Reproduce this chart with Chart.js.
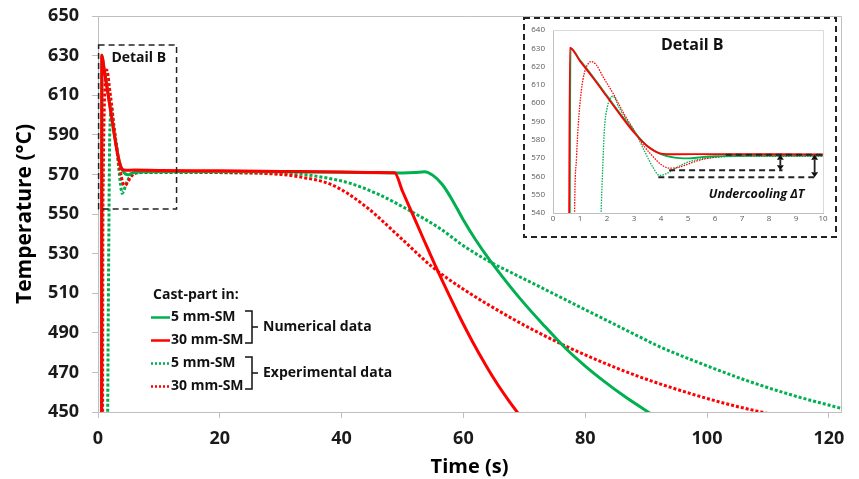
<!DOCTYPE html>
<html>
<head>
<meta charset="utf-8">
<script src="https://cdn.jsdelivr.net/npm/chart.js@4.4.0/dist/chart.umd.min.js"></script>
<style>
  body { margin: 0; background: #fff; }
  #wrap { position: relative; width: 859px; height: 479px; }
  #main { position: absolute; left: 0; top: 0; }
  #inset { position: absolute; left: 520px; top: 14px; }
</style>
</head>
<body>
<div id="wrap">
  <canvas id="main" width="859" height="479"></canvas>
  <canvas id="inset" width="320" height="227"></canvas>
</div>
<script>
// cast-part 5 mm-SM, numerical
const time5Num = [0.6, 0.65, 1.0, 1.5, 2.0, 2.5, 3.0, 3.5, 4.0, 4.5, 5.0, 5.5, 6.0, 8.0, 10, 20, 30, 40, 46, 50, 52, 53.6, 55, 56.5, 58, 59.9, 62, 64.3, 67, 69.8, 73, 76.9, 80, 82.9, 86.5, 90.6, 92];
const temp5Num = [430, 630, 623.5, 614, 604, 594, 584.5, 576.5, 572.2, 570.2, 569.8, 570.5, 571, 571.4, 571.5, 571.5, 571.4, 571.1, 570.8, 570.7, 570.9, 571.4, 569.5, 565, 558, 547.5, 537, 526.8, 516, 505.5, 494.5, 481.8, 473.2, 466, 457.8, 449.5, 446.8];

// cast-part 30 mm-SM, numerical
const time30Num = [0.58, 0.62, 1.0, 1.5, 2.0, 2.5, 3.0, 3.5, 4.0, 4.5, 6, 10, 20, 30, 40, 46, 48.7, 50, 51.6, 53.5, 55.6, 57.5, 59.4, 61.5, 63.7, 65.6, 67.5, 69.2, 70];
const temp30Num = [430, 630.3, 623, 613.5, 603.5, 593.5, 584, 576.5, 572.5, 572.1, 572.2, 572, 571.8, 571.5, 571.2, 571, 570.8, 561.5, 550.3, 537, 522.5, 510, 498, 485.5, 473.5, 464, 455.5, 448.5, 445.5];

// cast-part 5 mm-SM, experimental
const time5Exp = [1.55, 1.7, 1.78, 1.85, 1.91, 2.0, 2.1, 2.22, 2.45, 2.7, 3.05, 3.4, 3.7, 3.95, 4.2, 4.6, 5.0, 5.5, 6.0, 7.0, 10, 20, 30, 33, 37, 41.3, 46, 51, 56.1, 60, 64.3, 68, 72.5, 76.5, 80.7, 84.5, 88.9, 92.2, 99, 106.4, 114, 121.8, 123];
const temp5Exp = [430, 505, 540, 568, 587, 597, 602, 603.8, 597.5, 591.5, 584, 573.5, 565, 560.5, 561.5, 565, 567.8, 569.6, 570.4, 571, 571, 570.9, 570.6, 570.2, 568.5, 565.6, 560, 552, 542.8, 534, 525.9, 520.2, 513.3, 507.1, 500.6, 494.8, 488, 483, 474.5, 466, 458.5, 452, 451];

// cast-part 30 mm-SM, experimental
const time30Exp = [0.75, 0.8, 0.87, 0.93, 1.05, 1.17, 1.3, 1.42, 1.6, 1.85, 2.22, 2.6, 3.03, 3.4, 3.7, 4.0, 4.32, 4.6, 4.94, 5.3, 5.7, 6.44, 8, 10, 20, 30, 33, 38.5, 44, 49.5, 55, 60, 64.3, 68.7, 72.5, 77, 82.3, 88.9, 97.6, 104, 110.3, 111];
const temp30Exp = [430, 540, 570, 587, 607, 617, 621.5, 622.7, 621, 614.5, 605.5, 595, 584.5, 576, 570.9, 566.5, 564.5, 564.8, 566.4, 568.3, 569.8, 571, 571.2, 571.2, 571, 570, 568.8, 564.6, 553.7, 538.5, 523, 512, 503.8, 496, 489.8, 483, 475.8, 467.8, 459, 453.5, 449, 448.5];

const mainTimeTicks = [0, 20, 40, 60, 80, 100, 120];
const mainTempTicks = [450, 470, 490, 510, 530, 550, 570, 590, 610, 630, 650];

// "Detail B" region and undercooling marks
const detailTime = [0.1, 12.9];
const detailTemp = [552.5, 635.4];
const plateauTemp = 571.8;
const undercoolTemp = [563.3, 559.5];
const undercoolStart = [4.3, 3.9];
const undercoolEnd = [8.5, 9.7];
const arrowTime = [8.42, 9.69];

const legendNames = ['5 mm-SM', '30 mm-SM', '5 mm-SM', '30 mm-SM'];
const groupNames = ['Numerical data', 'Experimental data'];

const GREEN = '#00b050';
const RED = '#ff0000';

Chart.defaults.font.family = "'Open Sans', sans-serif";

function pts(t, v) {
  return t.map((x, i) => ({ x: x, y: v[i] }));
}

function makeSets(solidW, dotW, dash) {
  return [
    { label: 'Numerical 5 mm-SM', data: pts(time5Num, temp5Num), borderColor: GREEN, borderWidth: solidW, order: 1 },
    { label: 'Numerical 30 mm-SM', data: pts(time30Num, temp30Num), borderColor: RED, borderWidth: solidW, order: 0 },
    { label: 'Experimental 5 mm-SM', data: pts(time5Exp, temp5Exp), borderColor: GREEN, borderWidth: dotW, borderDash: dash, order: 3 },
    { label: 'Experimental 30 mm-SM', data: pts(time30Exp, temp30Exp), borderColor: RED, borderWidth: dotW, borderDash: dash, order: 2 }
  ].map(d => Object.assign(d, { pointRadius: 0, fill: false, cubicInterpolationMode: 'monotone' }));
}

const mainDecor = {
  id: 'mainDecor',
  afterDraw(chart) {
    const { ctx, chartArea: a, scales: { x, y } } = chart;
    ctx.save();
    // plot frame (top, right)
    ctx.strokeStyle = '#bfbfbf';
    ctx.lineWidth = 1;
    ctx.beginPath();
    ctx.moveTo(a.left, a.top + 0.5);
    ctx.lineTo(a.right + 0.5, a.top + 0.5);
    ctx.lineTo(a.right + 0.5, a.bottom);
    ctx.stroke();

    // Detail B box
    ctx.strokeStyle = '#222';
    ctx.lineWidth = 1.5;
    ctx.setLineDash([6, 4]);
    const bx0 = x.getPixelForValue(detailTime[0]), bx1 = x.getPixelForValue(detailTime[1]);
    const by0 = y.getPixelForValue(detailTemp[1]), by1 = y.getPixelForValue(detailTemp[0]);
    ctx.strokeRect(bx0, by0, bx1 - bx0, by1 - by0);
    ctx.setLineDash([]);
    ctx.fillStyle = '#111';
    ctx.font = "bold 14px 'Open Sans'";
    ctx.textBaseline = 'middle';
    ctx.textAlign = 'left';
    ctx.fillText('Detail B', x.getPixelForValue(2.2), y.getPixelForValue(628.8));

    // legend
    ctx.fillText('Cast-part in:', 153, 295);
    const styles = [[GREEN, []], [RED, []], [GREEN, [2, 2]], [RED, [2, 2]]];
    legendNames.forEach((name, i) => {
      const ly = 317.5 + i * 23;
      ctx.strokeStyle = styles[i][0];
      ctx.lineWidth = 2.5;
      ctx.setLineDash(styles[i][1]);
      ctx.beginPath();
      ctx.moveTo(151, ly);
      ctx.lineTo(170, ly);
      ctx.stroke();
      ctx.setLineDash([]);
      ctx.fillStyle = '#111';
      ctx.fillText(name, 171, ly);
    });
    // brackets
    ctx.strokeStyle = '#111';
    ctx.lineWidth = 1.5;
    groupNames.forEach((g, i) => {
      const top = 311 + i * 46, bot = top + 32, mid = (top + bot) / 2;
      ctx.beginPath();
      ctx.moveTo(245, top); ctx.lineTo(252, top); ctx.lineTo(252, bot); ctx.lineTo(245, bot);
      ctx.moveTo(252, mid); ctx.lineTo(258, mid);
      ctx.stroke();
      ctx.fillText(g, 263, mid);
    });
    ctx.restore();
  }
};

function vArrow(ctx, px, yTop, yBot) {
  const h = 5, w = 3.5;
  ctx.beginPath();
  ctx.moveTo(px, yTop + h); ctx.lineTo(px, yBot - h);
  ctx.stroke();
  ctx.beginPath();
  ctx.moveTo(px, yTop); ctx.lineTo(px - w, yTop + h); ctx.lineTo(px + w, yTop + h); ctx.closePath();
  ctx.moveTo(px, yBot); ctx.lineTo(px - w, yBot - h); ctx.lineTo(px + w, yBot - h); ctx.closePath();
  ctx.fill();
}

const insetDecor = {
  id: 'insetDecor',
  beforeDraw(chart) {
    const { ctx, width, height } = chart;
    ctx.save();
    ctx.fillStyle = '#fff';
    ctx.fillRect(4, 4, width - 8, height - 8);
    ctx.restore();
  },
  afterDraw(chart) {
    const { ctx, chartArea: a, scales: { x, y }, width, height } = chart;
    ctx.save();
    ctx.strokeStyle = '#d9d9d9';
    ctx.lineWidth = 1;
    ctx.beginPath();
    ctx.moveTo(a.left, a.top + 0.5);
    ctx.lineTo(a.right + 0.5, a.top + 0.5);
    ctx.lineTo(a.right + 0.5, a.bottom);
    ctx.stroke();

    // outer dashed frame
    ctx.strokeStyle = '#222';
    ctx.lineWidth = 2;
    ctx.setLineDash([6, 4]);
    ctx.strokeRect(4, 4, width - 8, height - 8);

    // undercooling marks
    ctx.beginPath();
    ctx.moveTo(x.getPixelForValue(6.4), y.getPixelForValue(plateauTemp));
    ctx.lineTo(x.getPixelForValue(10), y.getPixelForValue(plateauTemp));
    undercoolTemp.forEach((t, i) => {
      ctx.moveTo(x.getPixelForValue(undercoolStart[i]), y.getPixelForValue(t));
      ctx.lineTo(x.getPixelForValue(undercoolEnd[i]), y.getPixelForValue(t));
    });
    ctx.stroke();
    ctx.setLineDash([]);
    ctx.fillStyle = '#111';
    ctx.lineWidth = 1.8;
    arrowTime.forEach((t, i) => {
      vArrow(ctx, x.getPixelForValue(t), y.getPixelForValue(plateauTemp), y.getPixelForValue(undercoolTemp[i]));
    });

    ctx.textAlign = 'center';
    ctx.textBaseline = 'middle';
    ctx.font = "bold 16px 'Open Sans'";
    ctx.fillText('Detail B', x.getPixelForValue(5.16), y.getPixelForValue(631.3));
    ctx.font = "italic bold 12.5px 'Open Sans'";
    ctx.fillText('Undercooling \u0394T', x.getPixelForValue(7.54), y.getPixelForValue(550));
    ctx.restore();
  }
};

new Chart(document.getElementById('main'), {
  type: 'line',
  data: { datasets: makeSets(3, 3, [3, 2]) },
  plugins: [mainDecor],
  options: {
    responsive: false,
    animation: false,
    layout: { padding: { top: 16, right: 18, left: 0, bottom: 0 } },
    plugins: { legend: { display: false }, tooltip: { enabled: false } },
    scales: {
      x: {
        type: 'linear', min: 0, max: 122,
        afterFit(s) { s.height = 67; s.paddingLeft = 0; s.paddingRight = 0; },
        afterBuildTicks(s) { s.ticks = mainTimeTicks.map(v => ({ value: v })); },
        grid: { drawOnChartArea: false, drawTicks: true, tickLength: 6, color: '#bfbfbf' },
        border: { color: '#bfbfbf' },
        ticks: { padding: 10, color: '#1a1a1a', font: { size: 18, weight: 'bold' }, maxRotation: 0 },
        title: { display: true, text: 'Time (s)', color: '#000', font: { size: 20, weight: 'bold' }, padding: { top: 0, bottom: 0 } }
      },
      y: {
        type: 'linear', min: 450, max: 650,
        afterFit(s) { s.width = 98; s.paddingTop = 0; s.paddingBottom = 0; },
        afterBuildTicks(s) { s.ticks = mainTempTicks.map(v => ({ value: v })); },
        grid: { drawOnChartArea: false, drawTicks: true, tickLength: 6, color: '#bfbfbf' },
        border: { color: '#bfbfbf' },
        ticks: { padding: 13, color: '#1a1a1a', font: { size: 18, weight: 'bold' } },
        title: { display: true, text: 'Temperature (°C)', color: '#000', font: { size: 21, weight: 'bold' }, padding: { top: 12, bottom: 0 } }
      }
    }
  }
});

new Chart(document.getElementById('inset'), {
  type: 'line',
  data: { datasets: makeSets(1.8, 1.3, [1.5, 1.2]) },
  plugins: [insetDecor],
  options: {
    responsive: false,
    animation: false,
    layout: { padding: { top: 16, right: 17, left: 0, bottom: 0 } },
    plugins: { legend: { display: false }, tooltip: { enabled: false } },
    scales: {
      x: {
        type: 'linear', min: 0, max: 10,
        afterFit(s) { s.height = 28; },
        grid: { display: true, drawOnChartArea: false, drawTicks: false, color: '#bfbfbf' },
        border: { color: '#bfbfbf' },
        ticks: { stepSize: 1, padding: 1, color: '#595959', font: { size: 8 }, maxRotation: 0 }
      },
      y: {
        type: 'linear', min: 540, max: 640,
        afterFit(s) { s.width = 33; },
        grid: { display: true, drawOnChartArea: false, drawTicks: false, color: '#bfbfbf' },
        border: { color: '#bfbfbf' },
        ticks: { stepSize: 10, padding: 8, color: '#595959', font: { size: 8 } }
      }
    }
  }
});
</script>
</body>
</html>
